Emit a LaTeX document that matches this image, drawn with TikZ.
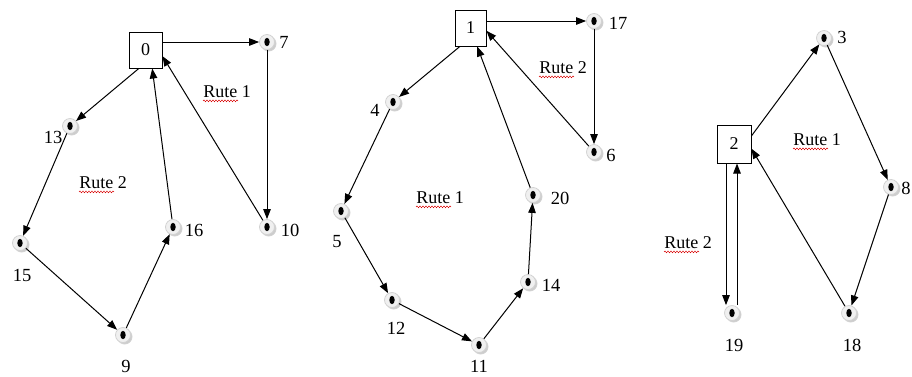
\documentclass[tikz,border=0pt]{standalone}
\usepackage{fontspec}
\setmainfont{Liberation Serif}
\usepackage{tikz}
\usetikzlibrary{arrows.meta,positioning,shadows,decorations.pathmorphing}
\tikzset{
  stopnode/.style={circle,minimum size=15pt,inner sep=0pt,fill=gray!12,draw=gray!35,line width=0.8pt,
    circular drop shadow={shadow xshift=1.3pt,shadow yshift=-1.3pt,opacity=0.4,fill=gray},
    path picture={\fill[black] (path picture bounding box.center) ellipse (2.7pt and 4.2pt);}},
  depotbox/.style={draw,line width=1pt,fill=white,minimum width=33pt,minimum height=36pt,
    inner sep=0pt,font=\fontsize{18}{20}\selectfont},
  stoplabel/.style={inner sep=1pt,font=\fontsize{18.5}{20}\selectfont},
  routelabel/.style={inner sep=0pt,font=\fontsize{18}{20}\selectfont},
  routearrow/.style={-{Triangle[length=10pt,width=7.5pt]},line width=1pt},
  spellwave/.style={draw=red!85!black,line width=0.5pt,
    decorate,decoration={snake,amplitude=0.8pt,segment length=3pt}}
}
\begin{document}
\begin{tikzpicture}[x=1pt,y=-1pt]
  \useasboundingbox (0,0) rectangle (912,376);

  % depot 0
  \node[depotbox] (d0) at (145.5,50) {0};
  \node[stopnode] (s7) at (267,42) {};
  \node[stopnode] (s10) at (267,227) {};
  \node[stopnode] (s13) at (70,126) {};
  \node[stopnode] (s15) at (20,243) {};
  \node[stopnode] (s9) at (123,335) {};
  \node[stopnode] (s16) at (173,227) {};
  \node[stoplabel] (l7) at (284,42) {7};
  \node[stoplabel] (l10) at (290,230) {10};
  \node[stoplabel] (l13) at (53,137) {13};
  \node[stoplabel] (l15) at (22,275) {15};
  \node[stoplabel] (l9) at (126,366) {9};
  \node[stoplabel] (l16) at (194,230) {16};
  \node[routelabel] (r0a) at (227,92) {Rute 1};
  \node[routelabel] (r0b) at (103,183) {Rute 2};
  \draw[routearrow] (d0.east |- s7) -- (s7);
  \draw[routearrow] (s7) -- (s10);
  \draw[routearrow] (s10) -- (d0.-20);
  \draw[routearrow] (d0.-110) -- (s13);
  \draw[routearrow] (s13) -- (s15);
  \draw[routearrow] (s15) -- (s9);
  \draw[routearrow] (s9) -- (s16);
  \draw[routearrow] (s16) -- (d0.-70);

  % depot 1
  \node[depotbox,minimum width=31pt] (d1) at (470.5,28) {1};
  \node[stopnode] (s17) at (594,21) {};
  \node[stopnode] (s6) at (594,152) {};
  \node[stopnode] (s4) at (393,102) {};
  \node[stopnode] (s5) at (341,211) {};
  \node[stopnode] (s12) at (392,300) {};
  \node[stopnode] (s11) at (479,345) {};
  \node[stopnode] (s14) at (528,282) {};
  \node[stopnode] (s20) at (533,195) {};
  \node[stoplabel] (l17) at (618,23) {17};
  \node[stoplabel] (l6) at (611,155) {6};
  \node[stoplabel] (l4) at (375,110) {4};
  \node[stoplabel] (l5) at (337,242) {5};
  \node[stoplabel] (l12) at (396,328) {12};
  \node[stoplabel] (l11) at (479,366) {11};
  \node[stoplabel] (l14) at (551,285) {14};
  \node[stoplabel] (l20) at (560,198) {20};
  \node[routelabel] (r1a) at (440,198) {Rute 1};
  \node[routelabel] (r1b) at (563,68) {Rute 2};
  \draw[routearrow] (d1.east |- s17) -- (s17);
  \draw[routearrow] (s17) -- (s6);
  \draw[routearrow] (s6) -- (d1.-10);
  \draw[routearrow] (d1.-120) -- (s4);
  \draw[routearrow] (s4) -- (s5);
  \draw[routearrow] (s5) -- (s12);
  \draw[routearrow] (s12) -- (s11);
  \draw[routearrow] (s11) -- (s14);
  \draw[routearrow] (s14) -- (s20);
  \draw[routearrow] (s20) -- (d1.-70);

  % depot 2
  \node[depotbox,minimum width=34pt,minimum height=38pt] (d2) at (734,144) {2};
  \node[stopnode] (s3) at (824,38) {};
  \node[stopnode] (s8) at (891,187) {};
  \node[stopnode] (s18) at (849,313) {};
  \node[stopnode] (s19) at (732,313) {};
  \node[stoplabel] (l3) at (842,37) {3};
  \node[stoplabel] (l8) at (906,188) {8};
  \node[stoplabel] (l18) at (852,345) {18};
  \node[stoplabel] (l19) at (734,345) {19};
  \node[routelabel] (r2a) at (817,140) {Rute 1};
  \node[routelabel] (r2b) at (688,243) {Rute 2};
  \draw[routearrow] (d2.25) -- (s3);
  \draw[routearrow] (s3) -- (s8);
  \draw[routearrow] (s8) -- (s18);
  \draw[routearrow] (s18) -- (d2.-15);
  \draw[routearrow] ([xshift=-8pt]d2.south) -- ([xshift=-6pt]s19.north);
  \draw[routearrow] ([xshift=5pt]s19.north) -- ([xshift=3pt]d2.south);

  % spell-check waves under "Rute"
  \foreach \r in {r0a,r0b,r1a,r1b,r2a,r2b}
    \draw[spellwave] ([yshift=-3pt]\r.base west) -- ++(35,0);
\end{tikzpicture}
\end{document}
